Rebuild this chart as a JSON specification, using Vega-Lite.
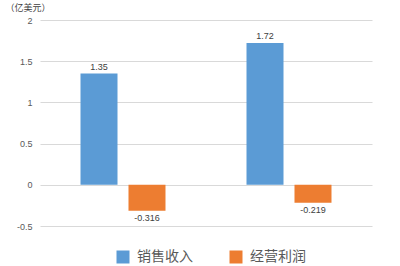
{
  "$schema": "https://vega.github.io/schema/vega-lite/v6.json",
  "width": 332,
  "height": 206,
  "autosize": "none",
  "padding": {"left": 40, "top": 20, "right": 28, "bottom": 40},
  "background": "white",
  "config": {
    "font": "Noto Sans CJK SC",
    "view": {"stroke": null}
  },
  "data": {
    "values": [
      {"group": "期1", "series": "销售收入", "v": 1.35},
      {"group": "期1", "series": "经营利润", "v": -0.316},
      {"group": "期2", "series": "销售收入", "v": 1.72},
      {"group": "期2", "series": "经营利润", "v": -0.219}
    ]
  },
  "transform": [{"calculate": "'' + datum.v", "as": "lbl"}],
  "encoding": {
    "x": {"field": "group", "type": "nominal", "axis": null, "scale": {"paddingInner": 0, "paddingOuter": 0}},
    "xOffset": {"field": "series", "type": "nominal", "sort": ["销售收入", "经营利润"], "scale": {"paddingInner": 0.229, "paddingOuter": 0.844}},
    "y": {
      "field": "v", "type": "quantitative",
      "scale": {"domain": [-0.5, 2], "nice": false, "zero": false},
      "axis": {
        "values": [-0.5, 0, 0.5, 1, 1.5, 2],
        "labelExpr": "'' + datum.value",
        "domain": false, "ticks": false,
        "labelPadding": 8, "labelFontSize": 9, "labelColor": "#595959",
        "labelFont": "Liberation Sans",
        "gridColor": "#d9d9d9", "gridWidth": 1,
        "title": "（亿美元）", "titleAngle": 0, "titleAlign": "left", "titleBaseline": "middle",
        "titleX": -35, "titleY": -13, "titleFontSize": 9, "titleFontWeight": "normal", "titleColor": "#404040"
      }
    }
  },
  "layer": [
    {
      "mark": {"type": "bar"},
      "encoding": {
        "color": {
          "field": "series", "type": "nominal",
          "scale": {"domain": ["销售收入", "经营利润"], "range": ["#5B9BD5", "#ED7D31"]},
          "legend": {
            "title": null, "orient": "none", "direction": "horizontal",
            "legendX": 76, "legendY": 230,
            "symbolType": "square", "symbolSize": 169, "symbolStrokeWidth": 0,
            "labelFontSize": 14, "labelColor": "#595959", "columnPadding": 36, "labelOffset": 7
          }
        }
      }
    },
    {
      "transform": [{"filter": "datum.v >= 0"}],
      "mark": {"type": "text", "baseline": "bottom", "dy": -2, "fontSize": 9, "color": "#404040", "font": "Liberation Sans"},
      "encoding": {"text": {"field": "lbl"}}
    },
    {
      "transform": [{"filter": "datum.v < 0"}],
      "mark": {"type": "text", "baseline": "top", "dy": 3, "fontSize": 9, "color": "#404040", "font": "Liberation Sans"},
      "encoding": {"text": {"field": "lbl"}}
    }
  ]
}
